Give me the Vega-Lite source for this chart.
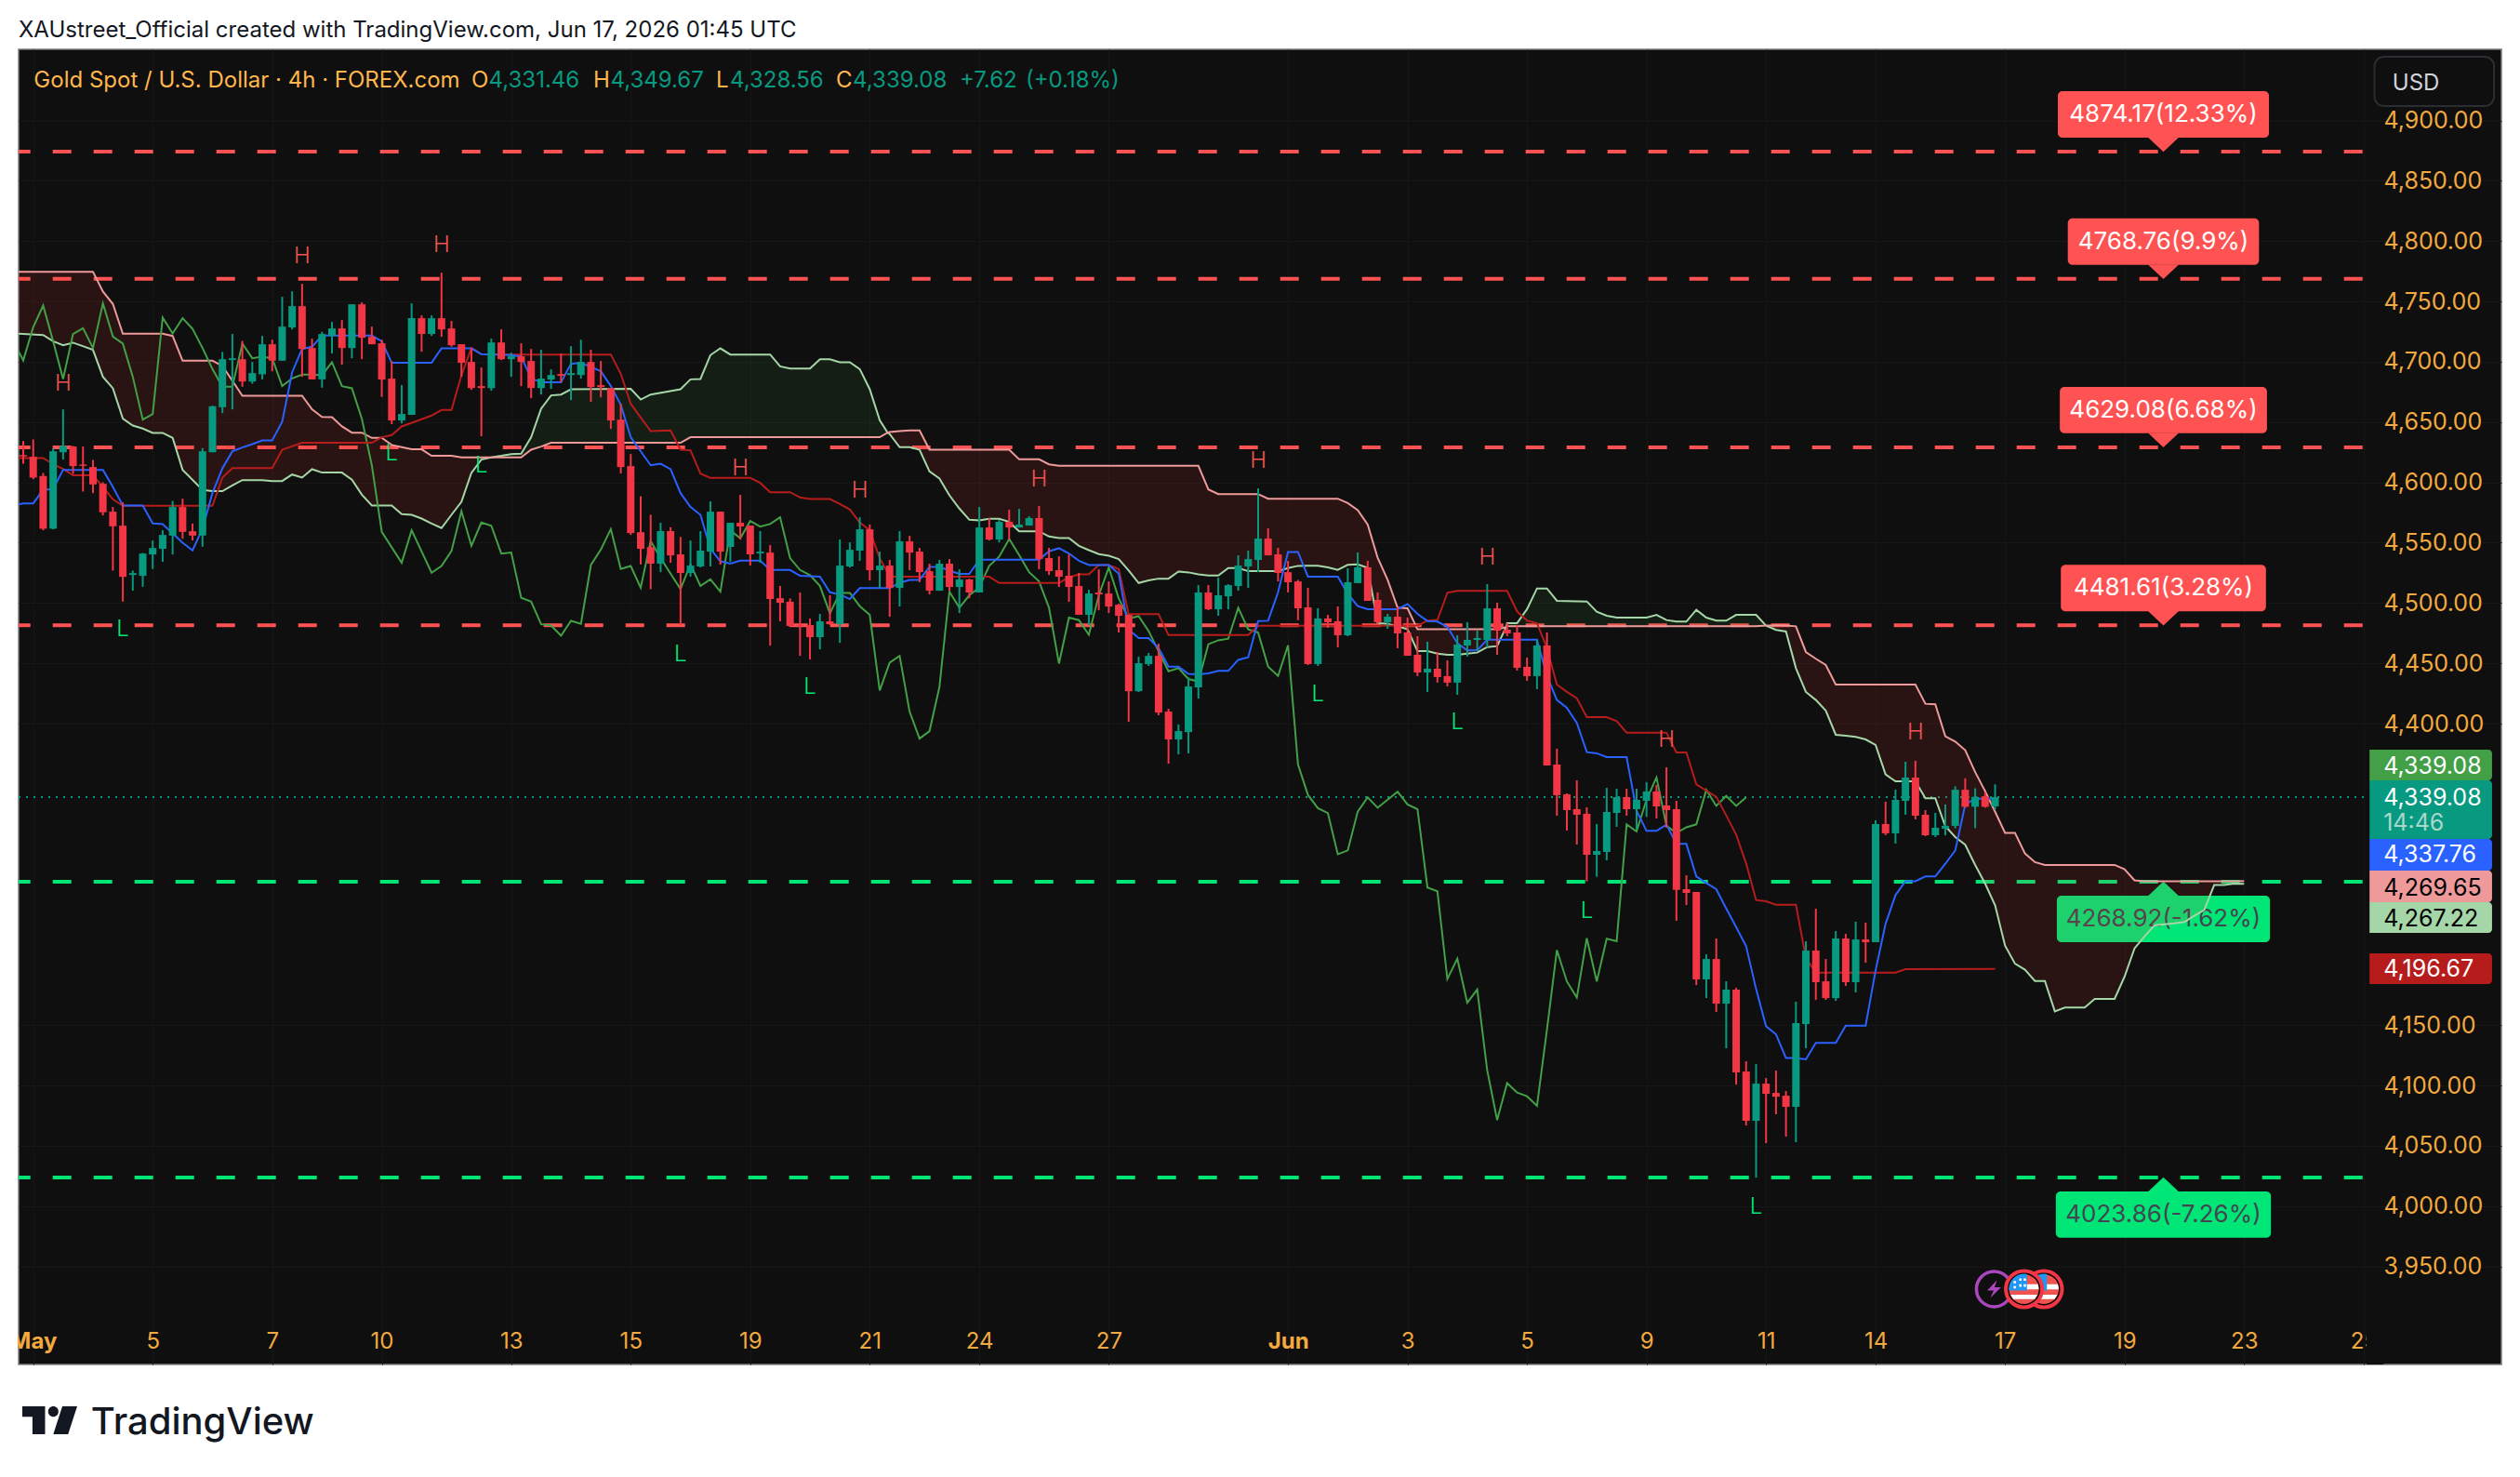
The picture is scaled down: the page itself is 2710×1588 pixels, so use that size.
{
"$schema":"https://vega.github.io/schema/vega-lite/v6.json",
"width":2670,"height":1414,"autosize":"none",
"padding":{"left":20,"top":53,"right":20,"bottom":121},
"background":"#ffffff",
"title":{"text":"XAUstreet_Official created with TradingView.com, Jun 17, 2026 01:45 UTC","anchor":"start","frame":"group","offset":8,"font":"Inter","fontSize":24,"fontWeight":400,"color":"#131722"},
"view":{"fill":"#0f0f0f","stroke":"#7d7d7d","strokeWidth":1.5},
"datasets":{
"levels":[
{"t":-0.467,"t2":235,"p":4874.17,"c":214.9,"lo":4885.8,"hi":4924.3,"mid":4905,"tri":4879.97,"a":204.3,"b":225.5,"label":"4874.17(12.33%)"},
{"t":-0.467,"t2":235,"p":4768.76,"c":214.9,"lo":4780.4,"hi":4818.9,"mid":4799.6,"tri":4774.6,"a":205.3,"b":224.5,"label":"4768.76(9.9%)"},
{"t":-0.467,"t2":235,"p":4629.08,"c":214.9,"lo":4640.7,"hi":4679.2,"mid":4659.9,"tri":4634.9,"a":204.5,"b":225.3,"label":"4629.08(6.68%)"},
{"t":-0.467,"t2":235,"p":4481.61,"c":214.9,"lo":4493.2,"hi":4531.7,"mid":4512.4,"tri":4487.4,"a":204.6,"b":225.2,"label":"4481.61(3.28%)"},
{"t":-0.467,"t2":235,"p":4268.92,"c":214.9,"lo":4218.8,"hi":4257.3,"mid":4238,"tri":4263.1,"a":204.2,"b":225.6,"label":"4268.92(-1.62%)"},
{"t":-0.467,"t2":235,"p":4023.86,"c":214.9,"lo":3973.8,"hi":4012.3,"mid":3993,"tri":4018,"a":204.1,"b":225.7,"label":"4023.86(-7.26%)"}
],
"cloud":[
{"t":-1,"a":4723.5,"b":4774.6,"s":"r1"},{"t":2,"a":4722.2,"b":4774.6,"s":"r1"},{"t":3,"a":4717,"b":4774.6,"s":"r1"},{"t":4,"a":4713.7,"b":4774.6,"s":"r1"},{"t":5,"a":4715.8,"b":4774.6,"s":"r1"},{"t":7,"a":4709.9,"b":4774.6,"s":"r1"},{"t":8,"a":4687.5,"b":4758.2,"s":"r1"},{"t":9,"a":4678,"b":4747.9,"s":"r1"},{"t":10,"a":4652.8,"b":4723.2,"s":"r1"},{"t":11,"a":4647.1,"b":4723.2,"s":"r1"},{"t":12,"a":4644.6,"b":4723.2,"s":"r1"},{"t":13,"a":4641,"b":4723.2,"s":"r1"},{"t":14,"a":4641,"b":4723.2,"s":"r1"},{"t":15,"a":4636.9,"b":4721.4,"s":"r1"},{"t":16,"a":4610.4,"b":4700.9,"s":"r1"},{"t":18,"a":4593.7,"b":4700.9,"s":"r1"},{"t":19,"a":4592.7,"b":4700.9,"s":"r1"},{"t":20,"a":4592.7,"b":4696.5,"s":"r1"},{"t":21,"a":4597.5,"b":4684.2,"s":"r1"},{"t":22,"a":4601.9,"b":4671.8,"s":"r1"},{"t":24,"a":4601.9,"b":4671.8,"s":"r1"},{"t":25,"a":4601.1,"b":4671.8,"s":"r1"},{"t":26,"a":4601.1,"b":4671.8,"s":"r1"},{"t":27,"a":4606.5,"b":4671.8,"s":"r1"},{"t":28,"a":4604,"b":4671.8,"s":"r1"},{"t":29,"a":4610.9,"b":4660.5,"s":"r1"},{"t":30,"a":4608.1,"b":4654.3,"s":"r1"},{"t":31,"a":4608.1,"b":4654.1,"s":"r1"},{"t":32,"a":4608.1,"b":4646.4,"s":"r1"},{"t":33,"a":4602.2,"b":4641.2,"s":"r1"},{"t":34,"a":4589.8,"b":4641.2,"s":"r1"},{"t":35,"a":4580.8,"b":4636.9,"s":"r1"},{"t":36,"a":4580.8,"b":4636.9,"s":"r1"},{"t":37,"a":4580.8,"b":4631,"s":"r1"},{"t":38,"a":4573.6,"b":4629.2,"s":"r1"},{"t":39,"a":4573.1,"b":4627.4,"s":"r1"},{"t":40,"a":4570,"b":4627.4,"s":"r1"},{"t":41,"a":4565.9,"b":4622,"s":"r1"},{"t":42,"a":4562.1,"b":4622,"s":"r1"},{"t":43,"a":4573.1,"b":4622,"s":"r1"},{"t":44,"a":4583.9,"b":4620.7,"s":"r1"},{"t":45,"a":4607.8,"b":4620.7,"s":"r1"},{"t":46,"a":4618.9,"b":4620.7,"s":"r1"},{"t":47,"a":4620.7,"b":4620.7,"s":"r1"},
{"t":47,"a":4620.7,"b":4620.7,"s":"g1"},{"t":48,"a":4622,"b":4620.7,"s":"g1"},{"t":49,"a":4623.5,"b":4620.7,"s":"g1"},{"t":50,"a":4623.8,"b":4620.7,"s":"g1"},{"t":51,"a":4637.4,"b":4627.1,"s":"g1"},{"t":52,"a":4661,"b":4629.7,"s":"g1"},{"t":53,"a":4672.1,"b":4632.8,"s":"g1"},{"t":54,"a":4672.8,"b":4632.8,"s":"g1"},{"t":55,"a":4677.2,"b":4632.8,"s":"g1"},{"t":61,"a":4677.5,"b":4632.8,"s":"g1"},{"t":62,"a":4668.7,"b":4632.8,"s":"g1"},{"t":63,"a":4672.8,"b":4632.8,"s":"g1"},{"t":66,"a":4677.2,"b":4632.8,"s":"g1"},{"t":67,"a":4685.4,"b":4637.4,"s":"g1"},{"t":68,"a":4685.7,"b":4637.4,"s":"g1"},{"t":69,"a":4705.5,"b":4637.4,"s":"g1"},{"t":70,"a":4711.1,"b":4637.4,"s":"g1"},{"t":71,"a":4706,"b":4637.4,"s":"g1"},{"t":75,"a":4706,"b":4637.4,"s":"g1"},{"t":76,"a":4696.2,"b":4637.4,"s":"g1"},{"t":77,"a":4694.4,"b":4637.4,"s":"g1"},{"t":79,"a":4694.4,"b":4637.4,"s":"g1"},{"t":80,"a":4702.1,"b":4637.4,"s":"g1"},{"t":81,"a":4702.1,"b":4637.4,"s":"g1"},{"t":82,"a":4699.6,"b":4637.4,"s":"g1"},{"t":83,"a":4699.6,"b":4637.4,"s":"g1"},{"t":84,"a":4693.9,"b":4637.4,"s":"g1"},{"t":85,"a":4677.2,"b":4637.4,"s":"g1"},{"t":86,"a":4651.5,"b":4637.4,"s":"g1"},{"t":86.8,"a":4641.2,"b":4641.2,"s":"g1"},
{"t":86.8,"a":4641.2,"b":4641.2,"s":"r2"},{"t":87,"a":4640,"b":4641.7,"s":"r2"},{"t":88,"a":4629.2,"b":4642.5,"s":"r2"},{"t":89,"a":4629.2,"b":4643,"s":"r2"},{"t":90,"a":4627.1,"b":4643,"s":"r2"},{"t":91,"a":4609.1,"b":4627.1,"s":"r2"},{"t":92,"a":4603.2,"b":4627.1,"s":"r2"},{"t":93,"a":4589.3,"b":4627.1,"s":"r2"},{"t":94,"a":4578.3,"b":4627.1,"s":"r2"},{"t":95,"a":4569,"b":4627.1,"s":"r2"},{"t":96,"a":4568.5,"b":4627.1,"s":"r2"},{"t":97,"a":4569.8,"b":4627.1,"s":"r2"},{"t":98,"a":4569.8,"b":4627.1,"s":"r2"},{"t":99,"a":4567.2,"b":4627.1,"s":"r2"},{"t":100,"a":4559.5,"b":4619.1,"s":"r2"},{"t":102,"a":4559.5,"b":4619.1,"s":"r2"},{"t":103,"a":4555.1,"b":4615,"s":"r2"},{"t":104,"a":4553.9,"b":4613.7,"s":"r2"},{"t":105,"a":4553.9,"b":4613.7,"s":"r2"},{"t":106,"a":4547.4,"b":4613.7,"s":"r2"},{"t":107,"a":4543.8,"b":4613.7,"s":"r2"},{"t":108,"a":4540.5,"b":4613.7,"s":"r2"},{"t":109,"a":4539.2,"b":4613.7,"s":"r2"},{"t":110,"a":4536.4,"b":4613.7,"s":"r2"},{"t":111,"a":4526.9,"b":4613.7,"s":"r2"},{"t":112,"a":4516.6,"b":4613.7,"s":"r2"},{"t":113,"a":4518.7,"b":4613.7,"s":"r2"},{"t":114,"a":4520.2,"b":4613.7,"s":"r2"},{"t":115,"a":4520.2,"b":4613.7,"s":"r2"},{"t":116,"a":4526.1,"b":4613.7,"s":"r2"},{"t":117,"a":4525.4,"b":4613.7,"s":"r2"},{"t":118,"a":4523.8,"b":4613.7,"s":"r2"},{"t":119,"a":4522.8,"b":4594.2,"s":"r2"},{"t":120,"a":4522.8,"b":4590.3,"s":"r2"},{"t":121,"a":4529,"b":4590.3,"s":"r2"},{"t":122,"a":4529,"b":4590.3,"s":"r2"},{"t":123,"a":4526.4,"b":4590.3,"s":"r2"},{"t":124,"a":4526.4,"b":4590.3,"s":"r2"},{"t":125,"a":4526.4,"b":4586.5,"s":"r2"},{"t":126,"a":4526.4,"b":4586.5,"s":"r2"},{"t":127,"a":4529,"b":4586.5,"s":"r2"},{"t":128,"a":4530.8,"b":4586.5,"s":"r2"},{"t":129,"a":4530.9,"b":4586.5,"s":"r2"},{"t":130,"a":4530.9,"b":4586.5,"s":"r2"},{"t":131,"a":4529.6,"b":4586.5,"s":"r2"},{"t":132,"a":4527.5,"b":4586.5,"s":"r2"},{"t":133,"a":4531.6,"b":4582.8,"s":"r2"},{"t":134,"a":4532.1,"b":4577,"s":"r2"},{"t":135,"a":4529.1,"b":4565.1,"s":"r2"},{"t":136,"a":4483.3,"b":4537.6,"s":"r2"},{"t":137,"a":4482.8,"b":4519.3,"s":"r2"},{"t":138,"a":4480.7,"b":4496.2,"s":"r2"},{"t":139,"a":4478.2,"b":4495.6,"s":"r2"},{"t":140,"a":4460.2,"b":4478.2,"s":"r2"},{"t":141,"a":4460.2,"b":4478.2,"s":"r2"},{"t":142,"a":4458.1,"b":4478.2,"s":"r2"},{"t":143,"a":4457.1,"b":4478.2,"s":"r2"},{"t":144,"a":4457.1,"b":4478.2,"s":"r2"},{"t":145,"a":4458.1,"b":4478.2,"s":"r2"},{"t":146,"a":4458.9,"b":4478.2,"s":"r2"},{"t":147,"a":4463.5,"b":4478.2,"s":"r2"},{"t":148,"a":4464.3,"b":4478.2,"s":"r2"},{"t":148.9,"a":4480,"b":4480,"s":"r2"},
{"t":148.9,"a":4480,"b":4480,"s":"g2"},{"t":149,"a":4483.3,"b":4480.7,"s":"g2"},{"t":150,"a":4483.3,"b":4480.7,"s":"g2"},{"t":151,"a":4494.9,"b":4480.7,"s":"g2"},{"t":152,"a":4512.1,"b":4480.7,"s":"g2"},{"t":153,"a":4512.1,"b":4480.7,"s":"g2"},{"t":154,"a":4501.8,"b":4480.7,"s":"g2"},{"t":157,"a":4501.3,"b":4480.7,"s":"g2"},{"t":158,"a":4492.8,"b":4480.7,"s":"g2"},{"t":159,"a":4489.5,"b":4480.7,"s":"g2"},{"t":160,"a":4487.9,"b":4480.7,"s":"g2"},{"t":163,"a":4487.9,"b":4480.7,"s":"g2"},{"t":164,"a":4490.2,"b":4480.7,"s":"g2"},{"t":165,"a":4485.9,"b":4480.7,"s":"g2"},{"t":166,"a":4484.6,"b":4480.7,"s":"g2"},{"t":167,"a":4484.6,"b":4480.7,"s":"g2"},{"t":168,"a":4494.4,"b":4480.7,"s":"g2"},{"t":169,"a":4487.9,"b":4480.7,"s":"g2"},{"t":170,"a":4485.4,"b":4480.7,"s":"g2"},{"t":171,"a":4485.4,"b":4480.7,"s":"g2"},{"t":172,"a":4490.2,"b":4480.7,"s":"g2"},{"t":174,"a":4490.2,"b":4480.7,"s":"g2"},{"t":175,"a":4481.3,"b":4481.3,"s":"g2"},
{"t":175,"a":4481.3,"b":4481.3,"s":"r3"},{"t":176,"a":4477.7,"b":4481.3,"s":"r3"},{"t":177,"a":4476.4,"b":4481.3,"s":"r3"},{"t":178,"a":4446,"b":4480.7,"s":"r3"},{"t":179,"a":4426.3,"b":4459.4,"s":"r3"},{"t":180,"a":4419.6,"b":4453.8,"s":"r3"},{"t":181,"a":4410.8,"b":4448.6,"s":"r3"},{"t":182,"a":4390.8,"b":4432.4,"s":"r3"},{"t":183,"a":4390,"b":4432.4,"s":"r3"},{"t":184,"a":4389,"b":4432.4,"s":"r3"},{"t":185,"a":4386.9,"b":4432.4,"s":"r3"},{"t":186,"a":4382.3,"b":4432.4,"s":"r3"},{"t":187,"a":4357.9,"b":4432.4,"s":"r3"},{"t":188,"a":4352.2,"b":4432.4,"s":"r3"},{"t":190,"a":4352.2,"b":4432.4,"s":"r3"},{"t":191,"a":4338.1,"b":4416.5,"s":"r3"},{"t":192,"a":4338.1,"b":4416,"s":"r3"},{"t":193,"a":4315,"b":4389.5,"s":"r3"},{"t":194,"a":4306,"b":4385.1,"s":"r3"},{"t":195,"a":4299.6,"b":4378,"s":"r3"},{"t":196,"a":4282.8,"b":4359.8,"s":"r3"},{"t":197,"a":4267.4,"b":4344,"s":"r3"},{"t":198,"a":4249.4,"b":4327,"s":"r3"},{"t":199,"a":4216,"b":4309.4,"s":"r3"},{"t":200,"a":4201,"b":4309.4,"s":"r3"},{"t":201,"a":4196,"b":4292.4,"s":"r3"},{"t":202,"a":4186.7,"b":4285.2,"s":"r3"},{"t":203,"a":4186.7,"b":4282.9,"s":"r3"},{"t":204,"a":4161.5,"b":4282.9,"s":"r3"},{"t":205,"a":4164.6,"b":4282.9,"s":"r3"},{"t":207,"a":4164.6,"b":4282.9,"s":"r3"},{"t":208,"a":4171.8,"b":4282.9,"s":"r3"},{"t":210,"a":4171.8,"b":4282.9,"s":"r3"},{"t":211,"a":4190.3,"b":4279.3,"s":"r3"},{"t":212,"a":4213.7,"b":4270.1,"s":"r3"},{"t":213,"a":4223.6,"b":4269.3,"s":"r3"},{"t":214,"a":4232.8,"b":4269.3,"s":"r3"},{"t":215,"a":4233.6,"b":4269.3,"s":"r3"},{"t":216,"a":4234.4,"b":4269.3,"s":"r3"},{"t":217,"a":4235.6,"b":4269.3,"s":"r3"},{"t":218,"a":4240.7,"b":4269.3,"s":"r3"},{"t":219,"a":4245.5,"b":4269.3,"s":"r3"},{"t":220,"a":4266.2,"b":4269.3,"s":"r3"},{"t":221,"a":4266.2,"b":4269.3,"s":"r3"},{"t":222,"a":4267.4,"b":4269.3,"s":"r3"},{"t":223,"a":4267.2,"b":4269.6,"s":"r3"}
],
"tenkan":[
{"t":-1,"p":4580.8},{"t":0,"p":4582.6},{"t":1,"p":4582.6},{"t":2,"p":4593.7},{"t":3,"p":4594.5},{"t":4,"p":4610.4},{"t":8,"p":4610.4},{"t":9,"p":4596.3},{"t":10,"p":4580.8},{"t":12,"p":4580.8},{"t":13,"p":4565.9},{"t":14,"p":4565.4},{"t":15,"p":4557.7},{"t":16,"p":4550},{"t":17,"p":4543.6},{"t":18,"p":4561.6},{"t":19,"p":4591.1},{"t":20,"p":4611.7},{"t":21,"p":4625.8},{"t":22,"p":4628.9},{"t":23,"p":4631.7},{"t":24,"p":4634.8},{"t":25,"p":4634.8},{"t":26,"p":4650.2},{"t":27,"p":4691.3},{"t":28,"p":4710.6},{"t":29,"p":4712.4},{"t":30,"p":4721.7},{"t":35,"p":4721.7},{"t":36,"p":4717},{"t":37,"p":4699.1},{"t":41,"p":4699.1},{"t":42,"p":4711.1},{"t":45,"p":4711.1},{"t":46,"p":4706.3},{"t":49,"p":4705.5},{"t":50,"p":4704.2},{"t":51,"p":4686.2},{"t":52,"p":4682.9},{"t":54,"p":4682.9},{"t":55,"p":4698.3},{"t":56,"p":4699.1},{"t":58,"p":4692.1},{"t":59,"p":4679.8},{"t":60,"p":4664.4},{"t":61,"p":4637.4},{"t":63,"p":4614.2},{"t":64,"p":4615.5},{"t":65,"p":4610.9},{"t":66,"p":4591.1},{"t":67,"p":4579.6},{"t":68,"p":4573.1},{"t":69,"p":4544.9},{"t":70,"p":4534.6},{"t":71,"p":4532.6},{"t":72,"p":4535.1},{"t":74,"p":4535.1},{"t":75,"p":4527.4},{"t":77,"p":4527.4},{"t":78,"p":4522.6},{"t":80,"p":4521.8},{"t":81,"p":4508.9},{"t":82,"p":4507.1},{"t":83,"p":4503.3},{"t":84,"p":4512.3},{"t":87,"p":4512.3},{"t":88,"p":4516.6},{"t":89,"p":4519.2},{"t":90,"p":4519.2},{"t":91,"p":4530},{"t":92,"p":4530},{"t":93,"p":4526.9},{"t":94,"p":4524.1},{"t":95,"p":4524.1},{"t":96,"p":4535.9},{"t":102,"p":4535.9},{"t":103,"p":4542.9},{"t":104,"p":4545.4},{"t":105,"p":4541.1},{"t":106,"p":4535.1},{"t":107,"p":4531.5},{"t":109,"p":4531.5},{"t":110,"p":4524.4},{"t":111,"p":4478.1},{"t":112,"p":4470.9},{"t":113,"p":4470.9},{"t":114,"p":4462.7},{"t":115,"p":4447.2},{"t":116,"p":4447.2},{"t":117,"p":4441.3},{"t":118,"p":4440.8},{"t":119,"p":4441.6},{"t":120,"p":4443.7},{"t":121,"p":4443.7},{"t":122,"p":4452.9},{"t":123,"p":4455},{"t":124,"p":4485},{"t":125,"p":4485.3},{"t":126,"p":4508.9},{"t":127,"p":4542.3},{"t":128,"p":4542.3},{"t":129,"p":4521.9},{"t":132,"p":4521.9},{"t":133,"p":4507.7},{"t":134,"p":4497.4},{"t":135,"p":4494.9},{"t":138,"p":4494.9},{"t":139,"p":4499.2},{"t":140,"p":4491},{"t":141,"p":4485.1},{"t":142,"p":4484.6},{"t":143,"p":4480.2},{"t":144,"p":4466.6},{"t":145,"p":4460.7},{"t":146,"p":4460.7},{"t":147,"p":4469.7},{"t":152,"p":4469.7},{"t":153,"p":4439.6},{"t":154,"p":4419.6},{"t":155,"p":4413.1},{"t":156,"p":4400.6},{"t":157,"p":4376.4},{"t":158,"p":4375.4},{"t":159,"p":4372.3},{"t":161,"p":4372.3},{"t":162,"p":4327.8},{"t":163,"p":4311.1},{"t":164,"p":4311.1},{"t":165,"p":4316.3},{"t":166,"p":4300.3},{"t":167,"p":4300.3},{"t":168,"p":4273.3},{"t":169,"p":4267.9},{"t":170,"p":4262.8},{"t":171,"p":4246.8},{"t":172,"p":4231.4},{"t":173,"p":4215.5},{"t":174,"p":4180},{"t":175,"p":4149.2},{"t":176,"p":4142.5},{"t":177,"p":4122.9},{"t":178,"p":4122.9},{"t":179,"p":4121.7},{"t":180,"p":4135.3},{"t":182,"p":4135.3},{"t":183,"p":4149.7},{"t":185,"p":4149.7},{"t":186,"p":4195.4},{"t":187,"p":4234},{"t":188,"p":4257.9},{"t":189,"p":4269.4},{"t":190,"p":4269.4},{"t":191,"p":4273.3},{"t":192,"p":4273.3},{"t":193,"p":4283.8},{"t":194,"p":4294.9},{"t":195,"p":4333},{"t":196,"p":4337.8},{"t":198,"p":4337.8}
],
"kijun":[
{"t":-1,"p":4620.2},{"t":2,"p":4620.2},{"t":3,"p":4615},{"t":4,"p":4611.2},{"t":5,"p":4605.8},{"t":7,"p":4605.8},{"t":8,"p":4596.3},{"t":9,"p":4586},{"t":10,"p":4580.6},{"t":19,"p":4580.6},{"t":20,"p":4604},{"t":21,"p":4611.9},{"t":25,"p":4611.9},{"t":26,"p":4627.1},{"t":28,"p":4632.8},{"t":35,"p":4632.8},{"t":36,"p":4637.4},{"t":37,"p":4639.2},{"t":38,"p":4646.4},{"t":40,"p":4652.3},{"t":41,"p":4655.4},{"t":42,"p":4660},{"t":43,"p":4660},{"t":44,"p":4688.8},{"t":45,"p":4711.4},{"t":46,"p":4706.3},{"t":49,"p":4706},{"t":59,"p":4706},{"t":60,"p":4690.1},{"t":61,"p":4665.1},{"t":63,"p":4642.5},{"t":65,"p":4643},{"t":66,"p":4627.1},{"t":67,"p":4626.6},{"t":68,"p":4607.3},{"t":69,"p":4603.7},{"t":73,"p":4603.7},{"t":74,"p":4599.6},{"t":75,"p":4591.9},{"t":77,"p":4591.9},{"t":78,"p":4587.5},{"t":79,"p":4586.2},{"t":81,"p":4586.2},{"t":82,"p":4582.1},{"t":83,"p":4577.5},{"t":84,"p":4566.7},{"t":85,"p":4560.3},{"t":86,"p":4537.1},{"t":87,"p":4521.8},{"t":97,"p":4521.8},{"t":98,"p":4516.6},{"t":104,"p":4516.6},{"t":105,"p":4521.3},{"t":106,"p":4523.8},{"t":107,"p":4523.8},{"t":108,"p":4531.5},{"t":109,"p":4531.5},{"t":110,"p":4528.2},{"t":111,"p":4490.9},{"t":114,"p":4490.9},{"t":115,"p":4473.5},{"t":123,"p":4473.5},{"t":124,"p":4481.2},{"t":136,"p":4481.2},{"t":140,"p":4481.3},{"t":141,"p":4485.4},{"t":142,"p":4485.9},{"t":143,"p":4508.5},{"t":144,"p":4510},{"t":149,"p":4510},{"t":150,"p":4493.1},{"t":151,"p":4485.4},{"t":152,"p":4483.3},{"t":153,"p":4462.7},{"t":154,"p":4432.4},{"t":155,"p":4426.3},{"t":156,"p":4421.1},{"t":157,"p":4405.4},{"t":159,"p":4405.4},{"t":160,"p":4402.1},{"t":161,"p":4392.6},{"t":165,"p":4392.6},{"t":166,"p":4376.1},{"t":167,"p":4376.1},{"t":168,"p":4349.7},{"t":170,"p":4339.4},{"t":171,"p":4324},{"t":172,"p":4308},{"t":173,"p":4284.1},{"t":174,"p":4253.8},{"t":175,"p":4252.7},{"t":176,"p":4249.9},{"t":178,"p":4249.9},{"t":179,"p":4205.7},{"t":180,"p":4193.6},{"t":188,"p":4193.6},{"t":189,"p":4196.4},{"t":198,"p":4196.7}
],
"chikou":[
{"t":-1,"p":4717},{"t":0,"p":4701.1},{"t":1,"p":4728.6},{"t":2,"p":4746.6},{"t":3,"p":4717},{"t":4,"p":4685.7},{"t":5,"p":4723},{"t":6,"p":4727.8},{"t":7,"p":4711.4},{"t":8,"p":4748.4},{"t":9,"p":4720.9},{"t":10,"p":4715},{"t":11,"p":4687.5},{"t":12,"p":4652},{"t":13,"p":4656.7},{"t":14,"p":4736.6},{"t":15,"p":4723.5},{"t":16,"p":4736.1},{"t":17,"p":4727.3},{"t":18,"p":4711.4},{"t":19,"p":4693.9},{"t":20,"p":4679.3},{"t":21,"p":4679.3},{"t":22,"p":4715},{"t":23,"p":4702.9},{"t":24,"p":4704.2},{"t":25,"p":4702.9},{"t":26,"p":4679.8},{"t":27,"p":4686.2},{"t":28,"p":4689.3},{"t":29,"p":4689.3},{"t":30,"p":4688.8},{"t":31,"p":4699.6},{"t":32,"p":4679.8},{"t":33,"p":4678},{"t":34,"p":4652.8},{"t":35,"p":4614.2},{"t":36,"p":4559},{"t":38,"p":4533.3},{"t":39,"p":4560.3},{"t":41,"p":4525.1},{"t":42,"p":4530.7},{"t":43,"p":4543.1},{"t":44,"p":4576.2},{"t":45,"p":4547.4},{"t":46,"p":4566.7},{"t":47,"p":4564.1},{"t":48,"p":4541},{"t":49,"p":4541.8},{"t":50,"p":4504.3},{"t":51,"p":4501.2},{"t":52,"p":4482.4},{"t":53,"p":4481.4},{"t":54,"p":4472.9},{"t":55,"p":4485.2},{"t":56,"p":4482.7},{"t":57,"p":4531.5},{"t":58,"p":4544.3},{"t":59,"p":4561.3},{"t":60,"p":4528.2},{"t":61,"p":4530.7},{"t":62,"p":4512.7},{"t":63,"p":4551.3},{"t":64,"p":4537.2},{"t":65,"p":4524.4},{"t":66,"p":4511.5},{"t":67,"p":4532.1},{"t":68,"p":4514.1},{"t":69,"p":4519.7},{"t":70,"p":4509.4},{"t":71,"p":4560.3},{"t":72,"p":4553.6},{"t":73,"p":4568},{"t":74,"p":4563.4},{"t":75,"p":4565.5},{"t":76,"p":4571.1},{"t":77,"p":4537.2},{"t":78,"p":4527.4},{"t":79,"p":4523.1},{"t":80,"p":4514.1},{"t":81,"p":4491.5},{"t":82,"p":4508.4},{"t":83,"p":4508.4},{"t":84,"p":4497.4},{"t":85,"p":4490.2},{"t":86,"p":4427.5},{"t":87,"p":4450.6},{"t":88,"p":4456.2},{"t":89,"p":4410},{"t":90,"p":4387.6},{"t":91,"p":4393.8},{"t":92,"p":4430.5},{"t":93,"p":4509.4},{"t":94,"p":4496.1},{"t":95,"p":4506.4},{"t":96,"p":4512.8},{"t":97,"p":4530.8},{"t":98,"p":4538.5},{"t":99,"p":4553.1},{"t":100,"p":4539.8},{"t":101,"p":4525.6},{"t":102,"p":4517.9},{"t":103,"p":4496.1},{"t":104,"p":4449.8},{"t":105,"p":4487.9},{"t":106,"p":4485.8},{"t":107,"p":4473.7},{"t":108,"p":4506.4},{"t":109,"p":4529.5},{"t":110,"p":4503.8},{"t":111,"p":4487.1},{"t":112,"p":4489.1},{"t":113,"p":4476.8},{"t":114,"p":4460.1},{"t":115,"p":4443.4},{"t":116,"p":4446},{"t":117,"p":4437},{"t":118,"p":4434.9},{"t":119,"p":4465.8},{"t":120,"p":4469.1},{"t":121,"p":4470.4},{"t":122,"p":4496.1},{"t":123,"p":4478.1},{"t":124,"p":4475.5},{"t":125,"p":4447.2},{"t":126,"p":4439.5},{"t":127,"p":4465},{"t":128,"p":4366.3},{"t":129,"p":4340.9},{"t":130,"p":4329.9},{"t":131,"p":4325.9},{"t":132,"p":4291.7},{"t":133,"p":4294.9},{"t":134,"p":4327.1},{"t":135,"p":4338.9},{"t":136,"p":4330.3},{"t":138,"p":4343.6},{"t":139,"p":4333},{"t":140,"p":4329.1},{"t":141,"p":4264.2},{"t":142,"p":4261},{"t":143,"p":4188.3},{"t":144,"p":4205.2},{"t":145,"p":4168.6},{"t":146,"p":4179.6},{"t":147,"p":4112.7},{"t":148,"p":4071.4},{"t":149,"p":4102.1},{"t":150,"p":4094.2},{"t":151,"p":4091.1},{"t":152,"p":4083.2},{"t":153,"p":4146.2},{"t":154,"p":4212.3},{"t":155,"p":4186.3},{"t":156,"p":4172.9},{"t":157,"p":4222.1},{"t":158,"p":4186.3},{"t":159,"p":4221.7},{"t":160,"p":4219.7},{"t":161,"p":4316.5},{"t":162,"p":4310.6},{"t":163,"p":4337},{"t":164,"p":4355.4},{"t":165,"p":4315.3},{"t":166,"p":4309.4},{"t":167,"p":4314.1},{"t":168,"p":4316.5},{"t":169,"p":4345.2},{"t":170,"p":4331.8},{"t":171,"p":4340.1},{"t":172,"p":4331.8},{"t":173,"p":4339}
],
"candles":[
{"t":0,"o":4622.7,"h":4634.3,"l":4615.5,"c":4621.4},{"t":1,"o":4621.2,"h":4635.6,"l":4602.7,"c":4604},{"t":2,"o":4605.3,"h":4607.8,"l":4560.3,"c":4561.6},{"t":3,"o":4561.6,"h":4628.4,"l":4561.1,"c":4625.8},{"t":4,"o":4625,"h":4660.5,"l":4618.9,"c":4630.2},{"t":5,"o":4629.7,"h":4630.2,"l":4607.1,"c":4613.5},{"t":6,"o":4614.8,"h":4629.7,"l":4592.4,"c":4613.7},{"t":7,"o":4612.7,"h":4618.6,"l":4591.1,"c":4598.3},{"t":8,"o":4598.8,"h":4600.1,"l":4572.6,"c":4575.2},{"t":9,"o":4575.7,"h":4579.6,"l":4526.9,"c":4563.6},
{"t":10,"o":4564.1,"h":4583.4,"l":4501.2,"c":4521.7},{"t":11,"o":4523.3,"h":4526.9,"l":4510.2,"c":4524.8},{"t":12,"o":4522.5,"h":4541.5,"l":4513.5,"c":4541},{"t":13,"o":4540.2,"h":4551.8,"l":4528.2,"c":4545.6},{"t":14,"o":4544.9,"h":4560.3,"l":4534.1,"c":4556.4},{"t":15,"o":4555.9,"h":4584.7,"l":4540.2,"c":4579.6},{"t":16,"o":4579.6,"h":4586.5,"l":4553.3,"c":4559},{"t":17,"o":4559.5,"h":4565.9,"l":4551.8,"c":4555.9},{"t":18,"o":4555.9,"h":4628.4,"l":4546.7,"c":4625.8},{"t":19,"o":4625,"h":4663.6,"l":4625,"c":4663.1},
{"t":20,"o":4662.3,"h":4708.1,"l":4657.4,"c":4702.1},{"t":21,"o":4701.4,"h":4723,"l":4660.5,"c":4702.9},{"t":22,"o":4702.1,"h":4717.3,"l":4679.3,"c":4683.6},{"t":23,"o":4683.6,"h":4699.8,"l":4681.8,"c":4690.6},{"t":24,"o":4689.6,"h":4721.4,"l":4685.4,"c":4714.5},{"t":25,"o":4714.5,"h":4718.3,"l":4692.1,"c":4700.9},{"t":26,"o":4700.9,"h":4753.8,"l":4700.9,"c":4729.1},{"t":27,"o":4728.4,"h":4758.4,"l":4726.8,"c":4746.1},{"t":28,"o":4746.1,"h":4764.6,"l":4687.5,"c":4710.6},{"t":29,"o":4711.4,"h":4719.1,"l":4685.4,"c":4685.4},
{"t":30,"o":4685.4,"h":4724.8,"l":4678.5,"c":4723},{"t":31,"o":4721.4,"h":4733,"l":4706.8,"c":4727.6},{"t":32,"o":4727.6,"h":4734.5,"l":4697.5,"c":4711.4},{"t":33,"o":4711.4,"h":4747.6,"l":4702.9,"c":4747.6},{"t":34,"o":4747.6,"h":4749.2,"l":4702.1,"c":4719.9},{"t":35,"o":4720.6,"h":4729.1,"l":4714.5,"c":4714.5},{"t":36,"o":4715.3,"h":4718.3,"l":4670.8,"c":4685.2},{"t":37,"o":4686,"h":4700.3,"l":4648.2,"c":4651.3},{"t":38,"o":4651.3,"h":4680.6,"l":4648.9,"c":4656.7},{"t":39,"o":4655.9,"h":4748.4,"l":4655.9,"c":4736.1},
{"t":40,"o":4736.1,"h":4738.4,"l":4708.3,"c":4723},{"t":41,"o":4723,"h":4738.4,"l":4721.4,"c":4736.1},{"t":42,"o":4736.1,"h":4773.8,"l":4720.6,"c":4726.8},{"t":43,"o":4727.6,"h":4733.8,"l":4712.4,"c":4713.7},{"t":44,"o":4714.5,"h":4714.5,"l":4687.5,"c":4699.1},{"t":45,"o":4699.8,"h":4711.4,"l":4676.7,"c":4678.2},{"t":46,"o":4679.8,"h":4695.2,"l":4638.2,"c":4678.2},{"t":47,"o":4678.2,"h":4719.1,"l":4675.9,"c":4716},{"t":48,"o":4716,"h":4726.8,"l":4701.4,"c":4702.1},{"t":49,"o":4702.1,"h":4707.5,"l":4687.5,"c":4704.5},
{"t":50,"o":4704.5,"h":4715.3,"l":4679.8,"c":4699.8},{"t":51,"o":4700.6,"h":4710.6,"l":4669.8,"c":4678.2},{"t":52,"o":4678.2,"h":4709.9,"l":4672.8,"c":4686},{"t":53,"o":4685.2,"h":4693.7,"l":4677.5,"c":4689},{"t":54,"o":4689.8,"h":4706.8,"l":4682.9,"c":4688.3},{"t":55,"o":4689,"h":4712.9,"l":4668.2,"c":4690.6},{"t":56,"o":4689,"h":4718.3,"l":4686,"c":4699.8},{"t":57,"o":4699.8,"h":4709.9,"l":4666.7,"c":4679},{"t":58,"o":4680.6,"h":4700.6,"l":4670.5,"c":4679},{"t":59,"o":4678.2,"h":4678.2,"l":4644.3,"c":4651.3},
{"t":60,"o":4652,"h":4665.1,"l":4607.3,"c":4612.7},{"t":61,"o":4613.5,"h":4623.5,"l":4556.4,"c":4558},{"t":62,"o":4558.7,"h":4588.5,"l":4532,"c":4544.9},{"t":63,"o":4546.2,"h":4573.2,"l":4511.5,"c":4532.6},{"t":64,"o":4532.6,"h":4566.5,"l":4525.6,"c":4559.6},{"t":65,"o":4559.6,"h":4562.9,"l":4533.3,"c":4539.5},{"t":66,"o":4540.3,"h":4554.7,"l":4481.7,"c":4524.9},{"t":67,"o":4524.9,"h":4551.8,"l":4521.8,"c":4531},{"t":68,"o":4530.3,"h":4559.6,"l":4529.5,"c":4543.4},{"t":69,"o":4542.6,"h":4584.2,"l":4530.3,"c":4575.7},
{"t":70,"o":4575.7,"h":4575.7,"l":4531.8,"c":4542.6},{"t":71,"o":4546.5,"h":4566.5,"l":4534.1,"c":4566.5},{"t":72,"o":4566.5,"h":4589.6,"l":4552.6,"c":4563.4},{"t":73,"o":4564.2,"h":4564.2,"l":4531,"c":4540.3},{"t":74,"o":4541.1,"h":4559.6,"l":4533.3,"c":4542.6},{"t":75,"o":4541.8,"h":4548,"l":4464.7,"c":4503.3},{"t":76,"o":4504,"h":4514.1,"l":4484.8,"c":4500.2},{"t":77,"o":4501,"h":4503.8,"l":4480.9,"c":4480.9},{"t":78,"o":4481.7,"h":4508.7,"l":4456.2,"c":4480.9},{"t":79,"o":4481.7,"h":4487.1,"l":4453.2,"c":4471.7},
{"t":80,"o":4471.7,"h":4490.9,"l":4461.6,"c":4484.8},{"t":81,"o":4484.8,"h":4506.4,"l":4481.7,"c":4482.5},{"t":82,"o":4482.5,"h":4552.6,"l":4467,"c":4531},{"t":83,"o":4530.3,"h":4550.3,"l":4529.5,"c":4544.1},{"t":84,"o":4543.4,"h":4571.1,"l":4534.9,"c":4561.1},{"t":85,"o":4561.1,"h":4565,"l":4518.7,"c":4527.2},{"t":86,"o":4527.2,"h":4542.6,"l":4512.5,"c":4531},{"t":87,"o":4531,"h":4535.7,"l":4488.6,"c":4512.5},{"t":88,"o":4512.5,"h":4559.6,"l":4497.1,"c":4551.1},{"t":89,"o":4551.1,"h":4555.7,"l":4527.2,"c":4541.8},
{"t":90,"o":4542.6,"h":4545.7,"l":4517.2,"c":4525.6},{"t":91,"o":4526.4,"h":4532.6,"l":4507.1,"c":4510.2},{"t":92,"o":4510.2,"h":4535.7,"l":4510.2,"c":4532.6},{"t":93,"o":4532.6,"h":4536.4,"l":4510.2,"c":4513.3},{"t":94,"o":4513.3,"h":4527.9,"l":4491.7,"c":4519.5},{"t":95,"o":4519.5,"h":4520.2,"l":4504,"c":4508.7},{"t":96,"o":4508.7,"h":4579.6,"l":4508.7,"c":4562.6},{"t":97,"o":4562.6,"h":4570.4,"l":4551.8,"c":4552.6},{"t":98,"o":4552.6,"h":4568.8,"l":4550.3,"c":4567.3},{"t":99,"o":4567.3,"h":4577.3,"l":4552.6,"c":4562.6},
{"t":100,"o":4562.6,"h":4578.1,"l":4562.6,"c":4565},{"t":101,"o":4564.2,"h":4571.9,"l":4564.2,"c":4570.4},{"t":102,"o":4570.4,"h":4580.4,"l":4527.9,"c":4536.4},{"t":103,"o":4537.2,"h":4545.7,"l":4523.3,"c":4526.4},{"t":104,"o":4527.2,"h":4538.7,"l":4513.3,"c":4521.8},{"t":105,"o":4522.6,"h":4540.3,"l":4501,"c":4513.3},{"t":106,"o":4514.1,"h":4524.9,"l":4490.2,"c":4490.2},{"t":107,"o":4490.2,"h":4511,"l":4481.7,"c":4507.9},{"t":108,"o":4508.7,"h":4527.9,"l":4494,"c":4507.1},{"t":109,"o":4507.9,"h":4517.9,"l":4491.7,"c":4497.1},
{"t":110,"o":4498.6,"h":4499.4,"l":4475.5,"c":4489.4},{"t":111,"o":4490.2,"h":4490.2,"l":4401.5,"c":4426.9},{"t":112,"o":4426.9,"h":4455.5,"l":4426.2,"c":4450.1},{"t":113,"o":4449.3,"h":4458.6,"l":4447.8,"c":4456.2},{"t":114,"o":4456.2,"h":4466.3,"l":4406.9,"c":4409.2},{"t":115,"o":4410,"h":4412.3,"l":4366.8,"c":4386.9},{"t":116,"o":4386.9,"h":4399.2,"l":4374.5,"c":4393.8},{"t":117,"o":4393,"h":4438.5,"l":4375.3,"c":4430.8},{"t":118,"o":4430,"h":4514.8,"l":4420.8,"c":4508.7},{"t":119,"o":4508.7,"h":4514.8,"l":4494,"c":4494.8},
{"t":120,"o":4494.8,"h":4521,"l":4489.4,"c":4506.4},{"t":121,"o":4505.6,"h":4515.6,"l":4494.8,"c":4514.8},{"t":122,"o":4514.1,"h":4539.5,"l":4510.2,"c":4531},{"t":123,"o":4530.3,"h":4543.4,"l":4512.5,"c":4536.4},{"t":124,"o":4535.7,"h":4595,"l":4525.6,"c":4553.4},{"t":125,"o":4553.4,"h":4561.9,"l":4539.5,"c":4539.5},{"t":126,"o":4540.3,"h":4545.7,"l":4517.9,"c":4524.9},{"t":127,"o":4525.6,"h":4534.9,"l":4508.7,"c":4517.2},{"t":128,"o":4517.9,"h":4519.2,"l":4485.8,"c":4495.6},{"t":129,"o":4496.4,"h":4512.6,"l":4448.6,"c":4449.4},
{"t":130,"o":4449.4,"h":4495.6,"l":4447.8,"c":4487.2},{"t":131,"o":4487.2,"h":4490.2,"l":4479.5,"c":4484.1},{"t":132,"o":4484.9,"h":4497.2,"l":4463.3,"c":4473.3},{"t":133,"o":4473.3,"h":4528.8,"l":4472.5,"c":4517.2},{"t":134,"o":4516.5,"h":4541.9,"l":4516.5,"c":4529.6},{"t":135,"o":4529.6,"h":4535,"l":4501.8,"c":4501.8},{"t":136,"o":4502.6,"h":4508.8,"l":4482.5,"c":4484.1},{"t":137,"o":4484.1,"h":4491,"l":4478.7,"c":4488.7},{"t":138,"o":4488.7,"h":4496.4,"l":4462.5,"c":4474.8},{"t":139,"o":4475.6,"h":4487.9,"l":4456.3,"c":4456.3},
{"t":140,"o":4457.1,"h":4472.5,"l":4439.4,"c":4442.4},{"t":141,"o":4442.4,"h":4467.9,"l":4426.3,"c":4445.5},{"t":142,"o":4445.5,"h":4459.4,"l":4434,"c":4438.6},{"t":143,"o":4439.4,"h":4452.5,"l":4430.9,"c":4434},{"t":144,"o":4434,"h":4473.3,"l":4423.9,"c":4465.6},{"t":145,"o":4464.8,"h":4484.1,"l":4455.6,"c":4469.4},{"t":146,"o":4469.4,"h":4477.1,"l":4460.2,"c":4471},{"t":147,"o":4469.4,"h":4515.7,"l":4463.3,"c":4495.6},{"t":148,"o":4495.6,"h":4500.3,"l":4457.1,"c":4477.1},{"t":149,"o":4477.9,"h":4483.3,"l":4472.5,"c":4474.8},
{"t":150,"o":4475.6,"h":4481.8,"l":4444,"c":4446.3},{"t":151,"o":4447.1,"h":4454.8,"l":4435.5,"c":4439.4},{"t":152,"o":4439.4,"h":4469.4,"l":4428.6,"c":4464.8},{"t":153,"o":4464.8,"h":4475.6,"l":4365.3,"c":4365.3},{"t":154,"o":4366.1,"h":4379.2,"l":4323.7,"c":4340.7},{"t":155,"o":4341.4,"h":4342.2,"l":4311.4,"c":4328.3},{"t":156,"o":4329.1,"h":4353,"l":4299.8,"c":4324.5},{"t":157,"o":4325.3,"h":4330.7,"l":4269.2,"c":4291.3},{"t":158,"o":4291.3,"h":4316.8,"l":4273.1,"c":4294.4},{"t":159,"o":4293.6,"h":4346.8,"l":4286.7,"c":4326.8},
{"t":160,"o":4326,"h":4346.1,"l":4314.5,"c":4339.1},{"t":161,"o":4339.1,"h":4346.1,"l":4323.7,"c":4329.1},{"t":162,"o":4329.1,"h":4346,"l":4312.4,"c":4336.8},{"t":163,"o":4336,"h":4351.5,"l":4322.7,"c":4343.8},{"t":164,"o":4343.8,"h":4349.2,"l":4321.4,"c":4331.4},{"t":165,"o":4332.2,"h":4363.8,"l":4313.7,"c":4328.3},{"t":166,"o":4329.1,"h":4336,"l":4236.6,"c":4262.3},{"t":167,"o":4262.8,"h":4274.3,"l":4249.6,"c":4259.7},{"t":168,"o":4260.4,"h":4260.4,"l":4183.3,"c":4188},{"t":169,"o":4188,"h":4208.8,"l":4172.5,"c":4204.9},
{"t":170,"o":4204.9,"h":4221.9,"l":4161,"c":4167.9},{"t":171,"o":4167.9,"h":4186.4,"l":4130.9,"c":4179.5},{"t":172,"o":4179.5,"h":4181,"l":4100.8,"c":4110.9},{"t":173,"o":4111.6,"h":4120.1,"l":4066.9,"c":4070.8},{"t":174,"o":4070.8,"h":4117.8,"l":4023.7,"c":4101.6},{"t":175,"o":4101.6,"h":4106.2,"l":4052.3,"c":4093.1},{"t":176,"o":4093.9,"h":4112.4,"l":4076.2,"c":4090.8},{"t":177,"o":4091.6,"h":4095.4,"l":4057.7,"c":4082.3},{"t":178,"o":4082.3,"h":4169.5,"l":4053,"c":4151.7},{"t":179,"o":4151,"h":4219.6,"l":4130.9,"c":4211.9},
{"t":180,"o":4211.9,"h":4246.6,"l":4171,"c":4185.7},{"t":181,"o":4186.4,"h":4204.9,"l":4171,"c":4172.5},{"t":182,"o":4172.5,"h":4228.1,"l":4170.2,"c":4221.9},{"t":183,"o":4221.9,"h":4225.7,"l":4182.6,"c":4185.7},{"t":184,"o":4185.7,"h":4235.8,"l":4177.2,"c":4221.1},{"t":185,"o":4221.1,"h":4235,"l":4201.8,"c":4218.8},{"t":186,"o":4218.8,"h":4319.9,"l":4218.8,"c":4316.8},{"t":187,"o":4316.8,"h":4335.3,"l":4307.5,"c":4309.1},{"t":188,"o":4309.1,"h":4345.3,"l":4300.6,"c":4336.8},{"t":189,"o":4336,"h":4368.4,"l":4324.5,"c":4355.3},
{"t":190,"o":4355.3,"h":4369.2,"l":4320.6,"c":4323.7},{"t":191,"o":4324.5,"h":4328.3,"l":4306.7,"c":4307.5},{"t":192,"o":4307.5,"h":4326,"l":4306,"c":4313.7},{"t":193,"o":4313,"h":4333,"l":4307.4,"c":4315.3},{"t":194,"o":4315.3,"h":4348,"l":4313.3,"c":4345.2},{"t":195,"o":4345.2,"h":4354.7,"l":4330.3,"c":4331.1},{"t":196,"o":4331.1,"h":4346.4,"l":4313.3,"c":4339.3},{"t":197,"o":4339.7,"h":4342.9,"l":4330.3,"c":4331.1},{"t":198,"o":4331.46,"h":4349.67,"l":4328.56,"c":4339.08}
],
"peaks":[
{"t":4,"p":4681.8,"label":"H"},{"t":28,"p":4787.2,"label":"H"},{"t":42,"p":4796.2,"label":"H"},{"t":72,"p":4611.2,"label":"H"},{"t":84,"p":4592.9,"label":"H"},{"t":102,"p":4602.2,"label":"H"},{"t":124,"p":4617.3,"label":"H"},{"t":147,"p":4537.3,"label":"H"},{"t":165,"p":4386.4,"label":"H"},{"t":190,"p":4392.6,"label":"H"},
{"t":10,"p":4477.6,"label":"L"},{"t":37,"p":4623.8,"label":"L"},{"t":46,"p":4613.7,"label":"L"},{"t":66,"p":4457,"label":"L"},{"t":79,"p":4429.8,"label":"L"},{"t":130,"p":4423.7,"label":"L"},{"t":144,"p":4400.6,"label":"L"},{"t":157,"p":4244.3,"label":"L"},{"t":174,"p":3999,"label":"L"}
],
"legendText":[
{"t":1.06,"p":4932.5,"text":"Gold Spot / U.S. Dollar · 4h · FOREX.com","tone":"o"},{"t":45,"p":4932.5,"text":"O","tone":"o"},{"t":46.74,"p":4932.5,"text":"4,331.46","tone":"g"},{"t":57.24,"p":4932.5,"text":"H","tone":"o"},{"t":58.96,"p":4932.5,"text":"4,349.67","tone":"g"},{"t":69.56,"p":4932.5,"text":"L","tone":"o"},{"t":70.96,"p":4932.5,"text":"4,328.56","tone":"g"},{"t":81.6,"p":4932.5,"text":"C","tone":"o"},{"t":83.3,"p":4932.5,"text":"4,339.08","tone":"g"},{"t":94.02,"p":4932.5,"text":"+7.62","tone":"g"},{"t":100.65,"p":4932.5,"text":"(+0.18%)","tone":"g"}
],
"quotes":[
{"name":"chikou","t":235.6,"t2":247.9,"hi":4378.4,"lo":4353},
{"name":"last","t":235.6,"t2":247.9,"hi":4353,"lo":4304.4},
{"name":"tenkan","t":235.6,"t2":247.9,"hi":4304.4,"lo":4278.2},
{"name":"spanB","t":235.6,"t2":247.9,"hi":4278.2,"lo":4252},
{"name":"spanA","t":235.6,"t2":247.9,"hi":4252,"lo":4226.5},
{"name":"kijun","t":235.6,"t2":247.9,"hi":4209.6,"lo":4184.2}
],
"quoteText":[
{"t":237,"p":4364.4,"text":"4,339.08","ink":"w"},
{"t":237,"p":4338.7,"text":"4,339.08","ink":"w"},
{"t":237,"p":4317.7,"text":"14:46","ink":"d"},
{"t":237,"p":4291,"text":"4,337.76","ink":"w"},
{"t":237,"p":4263.8,"text":"4,269.65","ink":"k"},
{"t":237,"p":4238,"text":"4,267.22","ink":"k"},
{"t":237,"p":4196.2,"text":"4,196.67","ink":"w"}
],
"flagRight":[{"t":202.9,"p":3931.3}],
"flagLeft":[{"t":200.9,"p":3931.3}]
},
"encoding":{
"x":{"field":"t","type":"quantitative","title":null,"scale":{"domain":[-0.467,248.84],"nice":false,"zero":false,"padding":0},
"axis":{"values":[1,13,25,36,49,61,73,85,96,109,127,139,151,163,175,186,199,211,223,235],
"labelExpr":"{'1':'May','13':'5','25':'7','36':'10','49':'13','61':'15','73':'19','85':'21','96':'24','109':'27','127':'Jun','139':'3','151':'5','163':'9','175':'11','186':'14','199':'17','211':'19','223':'23','235':'25'}[datum.value]",
"grid":true,"gridColor":"#161616","domain":false,"ticks":false,"labelPadding":-25,"labelBaseline":"middle","labelFont":"Inter","labelFontSize":24,"labelColor":"#f2a93f","labelOverlap":false,"labelFlush":false,"labelBound":false,"zindex":0,
"labelFontWeight":{"condition":{"test":"datum.value==1||datum.value==127","value":700},"value":400}}},
"y":{"field":"p","type":"quantitative","title":null,"scale":{"domain":[3868.8,4959],"nice":false,"zero":false,"padding":0},
"axis":{"orient":"right","values":[3950,4000,4050,4100,4150,4400,4450,4500,4550,4600,4650,4700,4750,4800,4850,4900],"format":",.2f","grid":true,"gridColor":"#161616","domain":false,"ticks":false,"labelPadding":-127,"labelAlign":"left","labelBaseline":"middle","labelFont":"Inter","labelFontSize":25,"labelColor":"#f2a93f","labelOverlap":false,"labelFlush":false,"labelBound":false,"zindex":0}}
},
"layer":[
{"data":{"name":"levels"},"mark":{"type":"rule","strokeWidth":4,"strokeDash":[20,24],"strokeDashOffset":7.3},"encoding":{"x2":{"field":"t2"},"color":{"condition":{"test":"datum.p>4339","value":"#ff5252"},"value":"#00e676"}}},
{"data":{"values":[{"t":-0.467,"t2":235.3,"p":4339.08}]},"mark":{"type":"rule","strokeWidth":2,"strokeDash":[2,6],"color":"#089981"},"encoding":{"x2":{"field":"t2"}}},
{"data":{"name":"levels"},"mark":{"type":"rect","cornerRadius":5},"encoding":{"x":{"field":"a","type":"quantitative","title":null},"x2":{"field":"b"},"y":{"field":"lo","type":"quantitative","title":null},"y2":{"field":"hi"},"color":{"condition":{"test":"datum.p>4339","value":"#ff5252"},"value":"#00e676"}}},
{"data":{"name":"levels"},"mark":{"type":"point","filled":true,"opacity":1,"size":1089},"encoding":{"x":{"field":"c","type":"quantitative","title":null},"y":{"field":"tri","type":"quantitative","title":null},"shape":{"condition":{"test":"datum.p>4339","value":"M-1,-.47L0,.47L1,-.47Z"},"value":"M-1,.47L0,-.47L1,.47Z"},"color":{"condition":{"test":"datum.p>4339","value":"#ff5252"},"value":"#00e676"}}},
{"data":{"name":"levels"},"mark":{"type":"text","font":"Inter","fontSize":26,"align":"center","baseline":"middle"},"encoding":{"x":{"field":"c","type":"quantitative","title":null},"y":{"field":"mid","type":"quantitative","title":null},"text":{"field":"label"},"color":{"condition":{"test":"datum.p>4339","value":"#ffffff"},"value":"#434651"}}},
{"data":{"name":"cloud"},"mark":{"type":"area","opacity":0.12,"clip":true},"encoding":{"y":{"field":"a","type":"quantitative","title":null},"y2":{"field":"b"},"color":{"field":"s","type":"nominal","legend":null,"scale":{"domain":["r1","g1","r2","g2","r3"],"range":["#f23b30","#388e3c","#f23b30","#388e3c","#f23b30"]}}}},
{"data":{"name":"cloud"},"mark":{"type":"line","color":"#a5d6a7","strokeWidth":2,"clip":true},"encoding":{"y":{"field":"a","type":"quantitative","title":null}}},
{"data":{"name":"cloud"},"mark":{"type":"line","color":"#ef9a9a","strokeWidth":2,"clip":true},"encoding":{"y":{"field":"b","type":"quantitative","title":null}}},
{"data":{"name":"chikou"},"mark":{"type":"line","color":"#43a047","strokeWidth":2,"clip":true},"encoding":{}},
{"data":{"name":"kijun"},"mark":{"type":"line","color":"#b71c1c","strokeWidth":2,"clip":true},"encoding":{}},
{"data":{"name":"tenkan"},"mark":{"type":"line","color":"#2962ff","strokeWidth":2,"clip":true},"encoding":{}},
{"data":{"name":"candles"},"mark":{"type":"rule","strokeWidth":2},"encoding":{"y":{"field":"l","type":"quantitative","title":null},"y2":{"field":"h"},"color":{"condition":{"test":"datum.c>=datum.o","value":"#089981"},"value":"#f23645"}}},
{"data":{"name":"candles"},"mark":{"type":"bar","size":8},"encoding":{"y":{"field":"o","type":"quantitative","title":null},"y2":{"field":"c"},"color":{"condition":{"test":"datum.c>=datum.o","value":"#089981"},"value":"#f23645"}}},
{"data":{"name":"peaks"},"mark":{"type":"text","font":"Inter","fontSize":24,"fontWeight":300,"align":"center","baseline":"middle"},"encoding":{"text":{"field":"label"},"color":{"condition":{"test":"datum.label=='H'","value":"#ef5350"},"value":"#00e676"}}},
{"data":{"name":"legendText"},"mark":{"type":"text","font":"Inter","fontSize":24,"align":"left","baseline":"middle"},"encoding":{"text":{"field":"text"},"color":{"condition":{"test":"datum.tone=='o'","value":"#ffb74d"},"value":"#089981"}}},
{"data":{"name":"quotes"},"mark":{"type":"rect","cornerRadiusTopRight":4,"cornerRadiusBottomRight":4},"encoding":{"x2":{"field":"t2"},"y":{"field":"lo","type":"quantitative","title":null},"y2":{"field":"hi"},"color":{"field":"name","type":"nominal","legend":null,"scale":{"domain":["chikou","last","tenkan","spanB","spanA","kijun"],"range":["#43a047","#089981","#2962ff","#ef9a9a","#a5d6a7","#b71c1c"]}}}},
{"data":{"name":"quoteText"},"mark":{"type":"text","font":"Inter","fontSize":25,"align":"left","baseline":"middle"},"encoding":{"text":{"field":"text"},"color":{"field":"ink","type":"nominal","legend":null,"scale":{"domain":["w","d","k"],"range":["#ffffff","#a8d8cc","#000000"]}}}},
{"data":{"values":[{"t":236.1,"t2":248.1,"lo":4911.9,"hi":4952.8}]},"mark":{"type":"rect","cornerRadius":10,"fill":"#0f0f0f","stroke":"#2a2e33","strokeWidth":2},"encoding":{"x2":{"field":"t2"},"y":{"field":"lo","type":"quantitative","title":null},"y2":{"field":"hi"}}},
{"data":{"values":[{"t":237.9,"p":4930.5,"text":"USD"}]},"mark":{"type":"text","font":"Inter","fontSize":24,"align":"left","baseline":"middle","color":"#d1d4dc"},"encoding":{"text":{"field":"text"}}},
{"data":{"values":[{"t":235.3,"t2":237,"lo":3868.8,"hi":3900}]},"mark":{"type":"rect","fill":"#0f0f0f"},"encoding":{"x2":{"field":"t2"},"y":{"field":"lo","type":"quantitative","title":null},"y2":{"field":"hi"}}},
{"data":{"values":[{"t":-3,"t2":-0.56,"lo":3868.8,"hi":3900}]},"mark":{"type":"rect","fill":"#ffffff"},"encoding":{"x2":{"field":"t2"},"y":{"field":"lo","type":"quantitative","title":null},"y2":{"field":"hi"}}},
{"data":{"values":[{"t":197.9,"p":3931.3}]},"mark":{"type":"point","shape":"circle","filled":false,"opacity":1,"stroke":"#ab47bc","strokeWidth":3.5,"size":1444},"encoding":{}},
{"data":{"values":[{"t":197.9,"p":3931.3}]},"mark":{"type":"point","filled":true,"opacity":1,"color":"#ab47bc","shape":"M.3,-.95L-.75,.15L-.05,.15L-.4,.95L.75,-.2L.05,-.2Z","size":400},"encoding":{}},
{"data":{"name":"flagRight"},"mark":{"type":"point","shape":"circle","filled":true,"opacity":1,"fill":"#000000","stroke":"#f23645","strokeWidth":4,"size":1521},"encoding":{}},
{"data":{"name":"flagRight"},"mark":{"type":"point","shape":"circle","filled":true,"opacity":1,"color":"#ef5350","size":1024},"encoding":{}},
{"data":{"name":"flagRight"},"mark":{"type":"point","filled":true,"opacity":1,"color":"#ffffff","shape":"M-.94,-.32L.94,-.32L1,.02L-1,.02ZM-.9,.38L.9,.38L.72,.68L-.72,.68Z","size":1024},"encoding":{}},
{"data":{"name":"flagRight"},"mark":{"type":"point","filled":true,"opacity":1,"color":"#2196f3","shape":"M-1,.1A1,1 0 0 1 .2,-1L.2,.1Z","size":1024},"encoding":{}},
{"data":{"name":"flagLeft"},"mark":{"type":"point","shape":"circle","filled":true,"opacity":1,"fill":"#000000","stroke":"#f23645","strokeWidth":4,"size":1521},"encoding":{}},
{"data":{"name":"flagLeft"},"mark":{"type":"point","shape":"circle","filled":true,"opacity":1,"color":"#ef5350","size":1024},"encoding":{}},
{"data":{"name":"flagLeft"},"mark":{"type":"point","filled":true,"opacity":1,"color":"#ffffff","shape":"M-.94,-.32L.94,-.32L1,.02L-1,.02ZM-.9,.38L.9,.38L.72,.68L-.72,.68Z","size":1024},"encoding":{}},
{"data":{"name":"flagLeft"},"mark":{"type":"point","filled":true,"opacity":1,"color":"#2196f3","shape":"M-1,.1A1,1 0 0 1 .2,-1L.2,.1Z","size":1024},"encoding":{}},
{"data":{"name":"flagLeft"},"mark":{"type":"point","filled":true,"opacity":1,"color":"#ffffff","shape":"M-.7,-.55h.16v.16h-.16ZM-.32,-.72h.16v.16h-.16ZM-.7,-.2h.16v.16h-.16ZM-.32,-.32h.16v.16h-.16ZM-.02,-.72h.16v.16h-.16ZM-.02,-.32h.16v.16h-.16Z","size":1024},"encoding":{}},
{"data":{"values":[{"t":2.66,"p":3822.6}]},"mark":{"type":"point","filled":true,"opacity":1,"color":"#131722","shape":"M-1,-.51L-.17,-.51L-.17,.51L-.63,.51L-.63,-.125L-1,-.125ZM-.057,-.315a.187,.187 0 1,0 .374,0a.187,.187 0 1,0 -.374,0ZM.46,-.51L1,-.51L.67,.51L.13,.51Z","size":3481},"encoding":{}},
{"data":{"values":[{"t":6.8,"p":3811,"text":"TradingView"}]},"mark":{"type":"text","font":"Inter","fontSize":40,"fontWeight":500,"align":"left","baseline":"alphabetic","color":"#131722"},"encoding":{"text":{"field":"text"}}}
],
"resolve":{"scale":{"color":"independent"}}
}
